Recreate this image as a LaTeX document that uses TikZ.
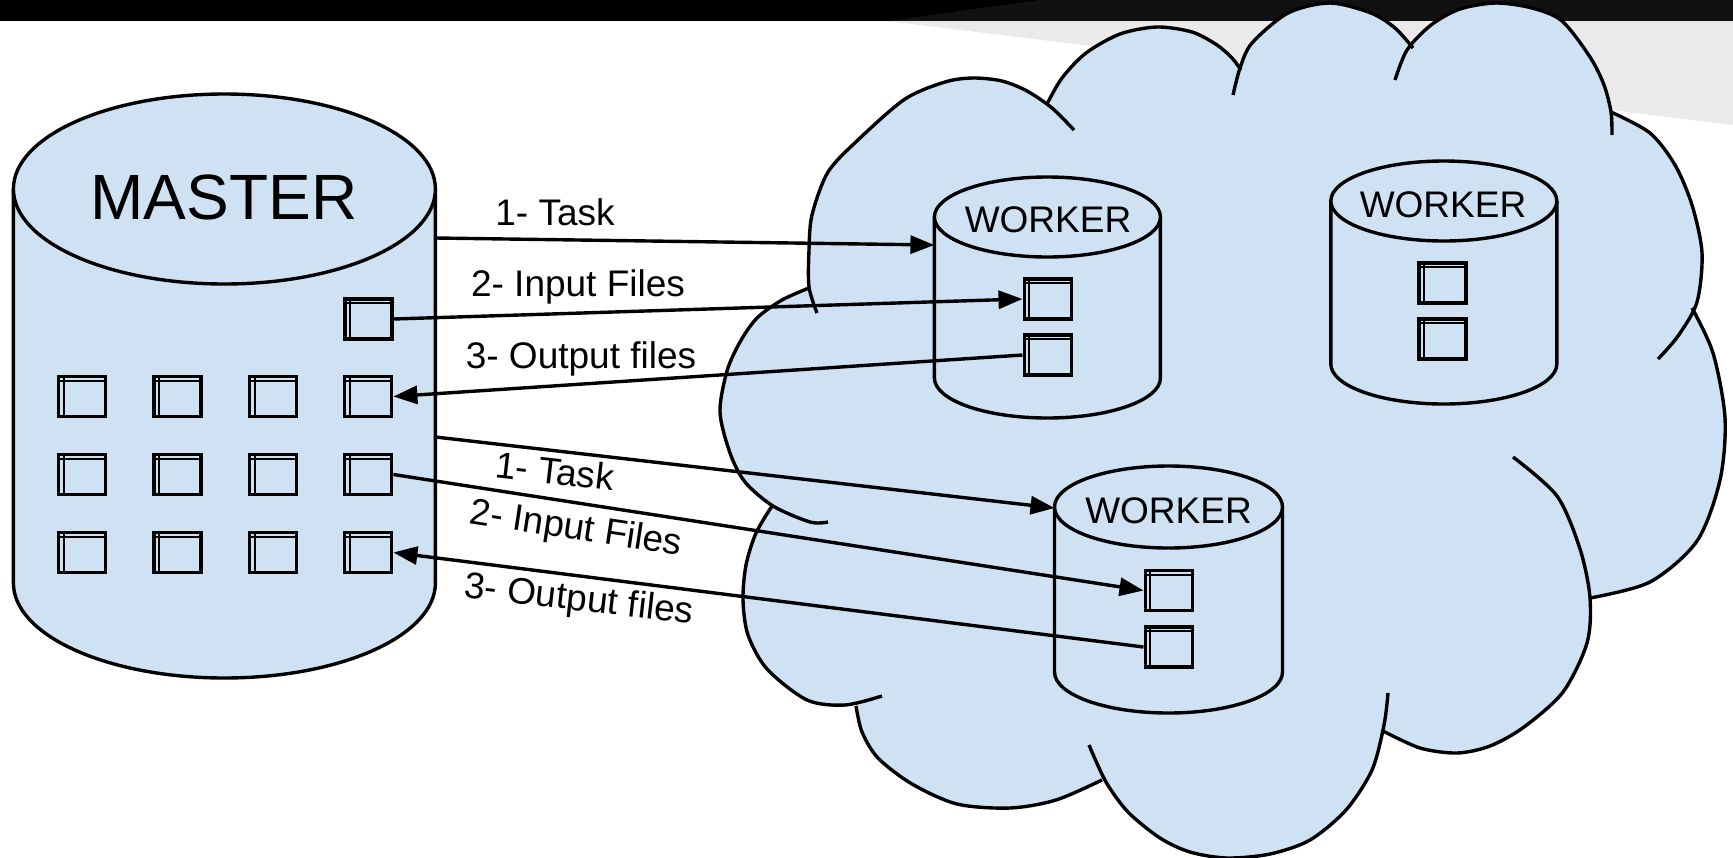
\documentclass[tikz,border=0pt]{standalone}
\usepackage{fontspec}
\setmainfont{Liberation Sans}
\usepackage{xcolor}
\usetikzlibrary{arrows.meta}
\definecolor{cloudblue}{HTML}{CFE2F3}
\definecolor{bandgrey}{HTML}{EAEAEA}
\definecolor{banddark}{HTML}{111111}
\pgfdeclarelayer{backdrop}
\pgfdeclarelayer{cloudfill}
\pgfsetlayers{backdrop,cloudfill,main}
\tikzset{
  cloudline/.style={line width=1.7pt, line join=round},
  flow/.style={line width=1.7pt, -{Triangle[length=12pt,width=9pt]}},
  filebox/.style={draw, line width=1.7pt, minimum width=23.5pt, minimum height=20pt, inner sep=0pt,
    path picture={\draw[line width=1pt] ([xshift=2.6pt]path picture bounding box.north west) -- ([xshift=2.6pt]path picture bounding box.south west);
      \draw[line width=1pt] ([yshift=-2.1pt]path picture bounding box.north west) -- ([yshift=-2.1pt]path picture bounding box.north east);}},
  lbl/.style={font=\fontsize{18.5}{20}\selectfont, inner sep=0pt},
}
\newcommand{\cloudbump}[1]{%
  \begin{pgfonlayer}{cloudfill}\fill[cloudblue] plot[smooth] coordinates {#1} -- cycle;\end{pgfonlayer}
  \draw[cloudline] plot[smooth] coordinates {#1};}
\newcommand{\drum}[5]{% centre x, top y, bottom y, x radius, y radius
  \filldraw[cloudline, fill=cloudblue] (#1-#4,#2) -- (#1-#4,#3) arc[start angle=180, end angle=0, x radius=#4, y radius=#5] -- (#1+#4,#2);
  \filldraw[cloudline, fill=cloudblue] (#1,#2) ellipse[x radius=#4, y radius=#5];}

\begin{document}
\begin{tikzpicture}[x=0.5pt, y=-0.5pt]
\useasboundingbox (0,0) rectangle (1733,857);
\begin{pgfonlayer}{backdrop}
\fill[black] (0,0) rectangle (1733,21);
\fill[banddark] (887,21) -- (1040,0) -- (1733,0) -- (1733,21) -- cycle;
\fill[bandgrey] (887,21) -- (1733,21) -- (1733,125) -- cycle;
\end{pgfonlayer}

% cloud
\begin{pgfonlayer}{cloudfill}
\fill[cloudblue] (809,288) -- (1047,104) -- (1240,68) -- (1411,48) -- (1611,112) -- (1692,308) -- (1590,598) -- (1383,730) -- (1102,780) -- (856,706) -- (772,506) -- cycle;
\end{pgfonlayer}
\cloudbump{(817,313) (809,287) (809,250) (812,215) (828,172) (859,139) (905,99) (945,82) (973,78) (1002,81) (1027,91) (1052,108) (1074,130)}
\cloudbump{(1047,104) (1062,78) (1086,53) (1120,34) (1157,27) (1192,32) (1217,45) (1232,58) (1241,70)}
\cloudbump{(1233,95) (1240,68) (1252,43) (1288,13) (1330,3) (1371,13) (1395,28) (1413,48)}
\cloudbump{(1395,80) (1407,50) (1431,25) (1460,9) (1496,3) (1532,8) (1562,21) (1590,57) (1604,85) (1611,112) (1612,135)}
\cloudbump{(1611,112) (1650,133) (1675,165) (1692,205) (1702,253) (1697,302) (1678,336) (1658,359)}
\cloudbump{(1692,308) (1713,353) (1725,418) (1720,480) (1697,541) (1650,582) (1590,598)}
\cloudbump{(1513,457) (1557,496) (1580,549) (1590,598) (1587,643) (1563,692) (1524,727) (1490,746) (1457,753) (1420,748) (1383,731)}
\cloudbump{(1388,693) (1384,725) (1372,770) (1346,810) (1310,840) (1270,854) (1227,858) (1190,852) (1160,838) (1128,812) (1106,782) (1089,745)}
\cloudbump{(1102,780) (1056,800) (1010,808) (957,804) (912,784) (878,758) (862,732) (856,706)}
\cloudbump{(882,696) (845,705) (807,700) (767,669) (748,635) (743,600) (746,565) (756,533) (772,506)}
\cloudbump{(828,522) (810,522) (773,506) (745,482) (730,453) (720,412) (727,371) (740,342) (757,318) (782,300) (809,288)}

% master and workers
\drum{224.4}{189}{583}{211}{95}
\node[font=\fontsize{32}{36}\selectfont, inner sep=0pt] (master) at (224,197) {MASTER};
\drum{1047.4}{217}{378}{113}{40}
\node[lbl] (wone) at (1048,220) {WORKER};
\drum{1443.8}{201}{364}{113}{40}
\node[lbl] (wtwo) at (1443,205) {WORKER};
\drum{1168.5}{507}{672}{114}{41}
\node[lbl] (wthree) at (1168.5,511) {WORKER};

\foreach \r in {1,2,3}
  \foreach \c in {1,...,4}
    \node[filebox] (m\r\c) at ({82+95.4*(\c-1)},{396.5+78*(\r-1)}) {};
\node[filebox] (m04) at (368.3,319) {};
\node[filebox] (wonein) at (1047.7,299) {};
\node[filebox] (woneout) at (1047.7,355) {};
\node[filebox] (wtwoa) at (1442.5,283) {};
\node[filebox] (wtwob) at (1442.5,339) {};
\node[filebox] (wthreein) at (1168.7,590.5) {};
\node[filebox] (wthreeout) at (1168.7,647) {};

\coordinate (mtaskone) at (435.4,238);
\coordinate (wonetop) at (934.4,245);
\coordinate (mtasktwo) at (435.4,437);
\coordinate (wthreetop) at (1054.5,508);

\draw[flow] (mtaskone) -- (wonetop);
\draw[flow] (m04.east) -- (wonein.west);
\draw[flow] (woneout.west) -- (m14.east);
\draw[flow] (mtasktwo) -- (wthreetop);
\draw[flow] (m24.east) -- (wthreein.west);
\draw[flow] (wthreeout.west) -- (m34.east);

\node[lbl, anchor=base] (taskone) at (555,225) {1- Task};
\node[lbl, anchor=base] (inputone) at (578,296) {2- Input Files};
\node[lbl, anchor=base] (outputone) at (581,368) {3- Output files};
\node[lbl, rotate=-6.6] (tasktwo) at (555,471) {1- Task};
\node[lbl, rotate=-8.7] (inputtwo) at (576,530) {2- Input Files};
\node[lbl, rotate=-6.5] (outputtwo) at (579,601) {3- Output files};
\end{tikzpicture}
\end{document}
